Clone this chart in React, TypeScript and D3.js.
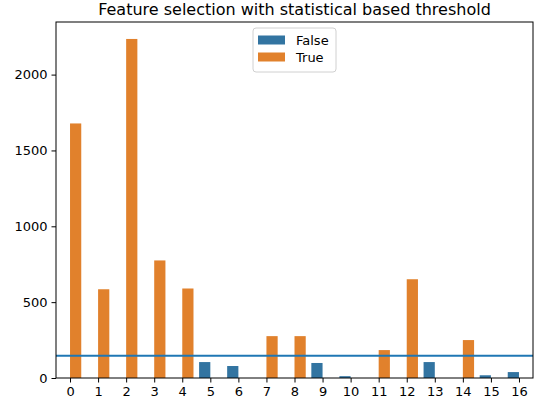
import React, { useEffect, useRef } from "react";
import * as d3 from "d3";

const features = [0, 1, 2, 3, 4, 5, 6, 7, 8, 9, 10, 11, 12, 13, 14, 15, 16];
const scores = [1678, 585, 2235, 775, 590, 105, 79, 276, 276, 99, 12, 184, 651, 105, 250, 18, 39];
const selected = [true, true, true, true, true, false, false, true, true, false, false, true, true, false, true, false, false];
const threshold = 147;
const yTicks = [0, 500, 1000, 1500, 2000];
const hueLevels = [false, true];
const hueLabels = ["False", "True"];

const W = 534;
const H = 404;
const margin = { top: 22, right: 1, bottom: 26, left: 56 };
const FONT = "DejaVu Sans, sans-serif";
const colors = ["#3274a1", "#e1812c"];

export default function App() {
  const ref = useRef<SVGSVGElement | null>(null);

  useEffect(() => {
    if (!ref.current) return;
    const svg = d3.select(ref.current);
    svg.selectAll("*").remove();

    const innerW = W - margin.left - margin.right;
    const innerH = H - margin.top - margin.bottom;

    const x = d3.scaleLinear().domain([-0.5, features.length - 0.5]).range([0, innerW]);
    const yMax = d3.max(scores)! * 1.05;
    const y = d3.scaleLinear().domain([0, yMax]).range([innerH, 0]);

    const g = svg.append("g").attr("transform", `translate(${margin.left},${margin.top})`);

    // bars, dodged by hue (False left, True right)
    const barW = 0.4;
    features.forEach((f, i) => {
      const h = hueLevels.indexOf(selected[i]);
      const x0 = f - 0.4 + h * barW;
      g.append("rect")
        .attr("x", x(x0))
        .attr("y", y(scores[i]))
        .attr("width", x(x0 + barW) - x(x0))
        .attr("height", y(0) - y(scores[i]))
        .attr("fill", colors[h]);
    });

    // threshold line
    g.append("line")
      .attr("x1", 0)
      .attr("x2", innerW)
      .attr("y1", y(threshold))
      .attr("y2", y(threshold))
      .attr("stroke", "#1f77b4")
      .attr("stroke-width", 2);

    // axes
    const xAxis = g
      .append("g")
      .attr("transform", `translate(0,${innerH})`)
      .call(d3.axisBottom(x).tickValues(features).tickFormat(d3.format("d")).tickSizeOuter(0).tickSize(4.5).tickPadding(4));
    const yAxis = g
      .append("g")
      .call(d3.axisLeft(y).tickValues(yTicks).tickFormat(d3.format("d")).tickSizeOuter(0).tickSize(4.5).tickPadding(4));
    [xAxis, yAxis].forEach((a) => {
      a.select(".domain").remove();
      a.selectAll("line").attr("stroke", "#000").attr("stroke-width", 1);
      a.selectAll("text").attr("fill", "#000").style("font-family", FONT).style("font-size", "13px");
    });

    // spines
    g.append("rect")
      .attr("x", 0)
      .attr("y", 0)
      .attr("width", innerW)
      .attr("height", innerH)
      .attr("fill", "none")
      .attr("stroke", "#000")
      .attr("stroke-width", 1);

    // title
    svg
      .append("text")
      .attr("x", margin.left + innerW / 2)
      .attr("y", 15)
      .attr("text-anchor", "middle")
      .style("font-family", FONT)
      .style("font-size", "16px")
      .attr("fill", "#000")
      .text("Feature selection with statistical based threshold");

    // legend
    const lg = svg.append("g").attr("transform", "translate(253,28)");
    lg.append("rect")
      .attr("width", 83)
      .attr("height", 44)
      .attr("rx", 3)
      .attr("fill", "white")
      .attr("fill-opacity", 0.8)
      .attr("stroke", "#d0d0d0");
    hueLabels.forEach((lab, i) => {
      lg.append("rect")
        .attr("x", 5)
        .attr("y", 7.5 + i * 17)
        .attr("width", 27)
        .attr("height", 9)
        .attr("fill", colors[i]);
      lg.append("text")
        .attr("x", 43)
        .attr("y", 16.5 + i * 17)
        .style("font-family", FONT)
        .style("font-size", "13px")
        .attr("fill", "#000")
        .text(lab);
    });
  }, []);

  return (
    <svg
      ref={ref}
      width={W}
      height={H}
      style={{ position: "absolute", left: 0, top: 0, background: "white" }}
    />
  );
}
